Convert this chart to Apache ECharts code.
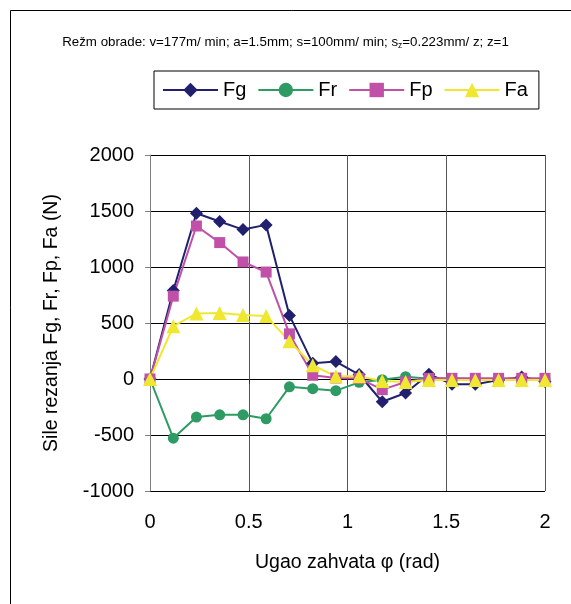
<!DOCTYPE html>
<html>
<head>
<meta charset="utf-8">
<script src="https://cdn.jsdelivr.net/npm/echarts@6/dist/echarts.min.js"></script>
<style>
  html, body { margin: 0; padding: 0; background: #fff; }
  #chart { width: 571px; height: 604px; }
</style>
</head>
<body>
<div id="chart"></div>
<script>
// Engagement angle (rad) at each measurement step
const angles = [0, 0.118, 0.235, 0.353, 0.471, 0.588, 0.706, 0.824, 0.941, 1.059, 1.176, 1.294, 1.412, 1.529, 1.647, 1.765, 1.882, 2.0];

// Cutting force components (N)
const Fg = [0, 790, 1480, 1406, 1334, 1376, 568, 140, 156, 40, -203, -125, 43, -46, -46, -10, 18, -22];
const Fr = [0, -528, -340, -320, -320, -355, -70, -86, -104, -30, -6, 20, 3, 5, 0, 0, 0, 0];
const Fp = [0, 740, 1366, 1218, 1045, 955, 403, 33, 9, 5, -95, -27, 6, 6, 6, 6, 6, 6];
const Fa = [0, 472, 584, 590, 572, 562, 338, 123, 24, 24, -18, -26, -10, -10, -8, -8, -8, -8];

const yTicks = { min: -1000, max: 2000, step: 500 };
const xTicks = { min: 0, max: 2, step: 0.5 };

const FONT = '"Liberation Sans", Arial, sans-serif';

function pairs(ys) {
  return ys.map((v, i) => [angles[i], v]);
}

const chart = echarts.init(document.getElementById('chart'), null, { renderer: 'canvas' });

const seriesDefs = [
  { name: 'Fg', data: Fg, color: '#20206e', symbol: 'diamond', size: 13 },
  { name: 'Fr', data: Fr, color: '#2e9a64', symbol: 'circle', size: 11 },
  { name: 'Fp', data: Fp, color: '#c050a8', symbol: 'rect', size: 11 },
  { name: 'Fa', data: Fa, color: '#f0e830', symbol: 'triangle', size: 14 }
];

chart.setOption({
  animation: false,
  backgroundColor: '#fff',
  textStyle: { fontFamily: FONT },
  title: {
    text: 'Režm obrade: v=177m/ min; a=1.5mm; s=100mm/ min; s{sub|z}=0.223mm/ z; z=1',
    left: 'center',
    top: 30,
    textStyle: {
      fontFamily: FONT,
      fontSize: 13.3,
      fontWeight: 'normal',
      color: '#000',
      rich: {
        sub: { fontFamily: FONT, fontSize: 8.5, color: '#000', padding: [6, 0, 0, 0] }
      }
    }
  },
  legend: {
    left: 154,
    top: 71,
    orient: 'horizontal',
    padding: [9, 11, 9, 8],
    itemGap: 11,
    itemWidth: 55,
    itemHeight: 18,
    borderColor: '#000',
    borderWidth: 1,
    borderRadius: 0,
    textStyle: { fontFamily: FONT, fontSize: 20, color: '#000', padding: [0, 0, 0, 0] },
    data: seriesDefs.map(s => s.name)
  },
  graphic: [
    {
      type: 'rect',
      shape: { x: 10.5, y: 10.5, width: 620, height: 620 },
      style: { fill: 'none', stroke: '#000', lineWidth: 1 },
      silent: true,
      z: -1
    }
  ],
  grid: { left: 150, right: 26, top: 155, bottom: 113, containLabel: false },
  xAxis: [
    {
      type: 'value',
      position: 'bottom',
      min: xTicks.min,
      max: xTicks.max,
      interval: xTicks.step,
      name: 'Ugao zahvata φ (rad)',
      nameLocation: 'middle',
      nameGap: 62,
      nameTextStyle: { fontFamily: FONT, fontSize: 19.5, color: '#000' },
      axisLine: { show: false, onZero: false },
      axisTick: { show: false },
      axisLabel: { margin: 21, fontFamily: FONT, fontSize: 20, color: '#000' },
      splitLine: { show: true, lineStyle: { color: '#555', width: 1 } }
    },
    {
      type: 'value',
      position: 'bottom',
      min: xTicks.min,
      max: xTicks.max,
      interval: xTicks.step,
      axisLine: { show: true, onZero: true, lineStyle: { color: '#000', width: 1 } },
      axisTick: { show: true, inside: false, length: 5, lineStyle: { color: '#333' } },
      axisLabel: { show: false },
      splitLine: { show: false }
    }
  ],
  yAxis: {
    type: 'value',
    min: yTicks.min,
    max: yTicks.max,
    interval: yTicks.step,
    name: 'Sile rezanja Fg, Fr, Fp, Fa (N)',
    nameLocation: 'middle',
    nameGap: 88,
    nameTextStyle: { fontFamily: FONT, fontSize: 19.5, color: '#000' },
    axisLine: { show: true, onZero: false, lineStyle: { color: '#808080', width: 1 } },
    axisTick: { show: true, inside: false, length: 5, lineStyle: { color: '#808080' } },
    axisLabel: {
      margin: 16,
      fontFamily: FONT,
      fontSize: 20,
      color: '#000',
      formatter: v => String(v)
    },
    splitLine: { show: true, lineStyle: { color: '#000', width: 1 } }
  },
  series: seriesDefs.map(s => ({
    name: s.name,
    type: 'line',
    xAxisIndex: 0,
    data: pairs(s.data),
    symbol: s.symbol,
    symbolSize: s.size,
    showAllSymbol: true,
    lineStyle: { color: s.color, width: 2 },
    itemStyle: { color: s.color, borderColor: s.color, borderWidth: 0 },
    emphasis: { disabled: true }
  }))
});
</script>
</body>
</html>
